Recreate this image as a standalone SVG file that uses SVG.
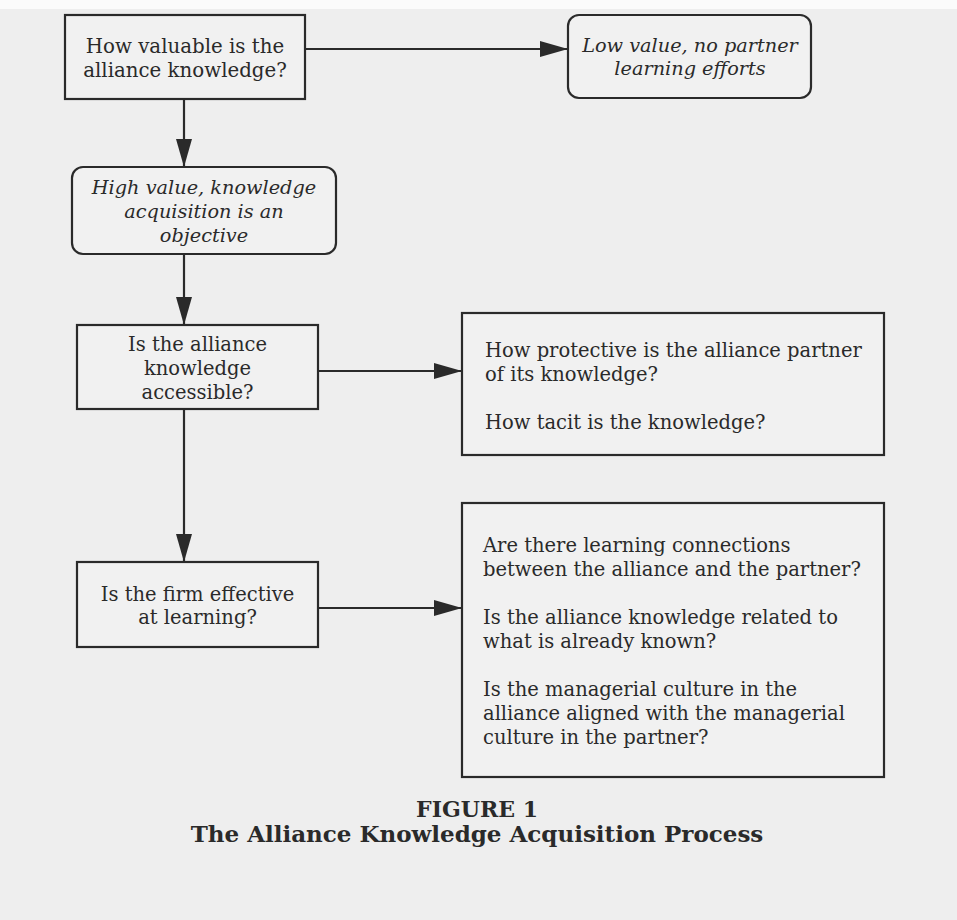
<svg xmlns="http://www.w3.org/2000/svg" width="957" height="920" viewBox="0 0 957 920">
  <defs>
    <marker id="ah" markerUnits="userSpaceOnUse" markerWidth="28" markerHeight="16" refX="28" refY="8" orient="auto">
      <path d="M0,0 L28,8 L0,16 Z" fill="#2a2a2a"/>
    </marker>
  </defs>
  <style>
    .box { fill: #f1f1f1; stroke: #2a2a2a; stroke-width: 2.2; }
    .t { font-family: "DejaVu Serif", "Liberation Serif", serif; fill: #2a2a2a; font-size: 19.5px; }
    .q { font-size: 19.8px; }
    .i { font-style: italic; font-size: 19.3px; }
    .c { text-anchor: middle; }
    .cap { font-family: "DejaVu Serif", "Liberation Serif", serif; fill: #2a2a2a; font-weight: bold; text-anchor: middle; }
    .ln { stroke: #2a2a2a; stroke-width: 2.2; fill: none; marker-end: url(#ah); }
  </style>
  <rect x="0" y="0" width="957" height="920" fill="#eeeeee"/>
  <rect x="0" y="0" width="957" height="9" fill="#fbfbfb"/>

  <g id="connectors">
    <line class="ln" x1="305" y1="49" x2="568" y2="49"/>
    <line class="ln" x1="184" y1="99" x2="184" y2="167"/>
    <line class="ln" x1="184" y1="254" x2="184" y2="325"/>
    <line class="ln" x1="318" y1="371" x2="462" y2="371"/>
    <line class="ln" x1="184" y1="409" x2="184" y2="562"/>
    <line class="ln" x1="318" y1="608" x2="462" y2="608"/>
  </g>

  <g id="n-valuable">
    <rect class="box" x="65" y="15" width="240" height="84"/>
    <text class="t q c" x="185" y="53">How valuable is the</text>
    <text class="t q c" x="185" y="77">alliance knowledge?</text>
  </g>

  <g id="n-low">
    <rect class="box" x="568" y="15" width="243" height="83" rx="11"/>
    <text class="t i c" x="690" y="52">Low value, no partner</text>
    <text class="t i c" x="690" y="75">learning efforts</text>
  </g>

  <g id="n-high">
    <rect class="box" x="72" y="167" width="264" height="87" rx="11"/>
    <text class="t i c" x="204" y="194">High value, knowledge</text>
    <text class="t i c" x="204" y="218">acquisition is an</text>
    <text class="t i c" x="204" y="242">objective</text>
  </g>

  <g id="n-accessible">
    <rect class="box" x="77" y="325" width="241" height="84"/>
    <text class="t c" x="197.5" y="351">Is the alliance</text>
    <text class="t c" x="197.5" y="375">knowledge</text>
    <text class="t c" x="197.5" y="399">accessible?</text>
  </g>

  <g id="n-protective">
    <rect class="box" x="462" y="313" width="422" height="142"/>
    <text class="t" x="485" y="357">How protective is the alliance partner</text>
    <text class="t" x="485" y="381">of its knowledge?</text>
    <text class="t" x="485" y="429">How tacit is the knowledge?</text>
  </g>

  <g id="n-effective">
    <rect class="box" x="77" y="562" width="241" height="85"/>
    <text class="t c" x="197.5" y="601">Is the firm effective</text>
    <text class="t c" x="197.5" y="624">at learning?</text>
  </g>

  <g id="n-learning">
    <rect class="box" x="462" y="503" width="422" height="274"/>
    <text class="t" x="483" y="552">Are there learning connections</text>
    <text class="t" x="483" y="576">between the alliance and the partner?</text>
    <text class="t" x="483" y="624">Is the alliance knowledge related to</text>
    <text class="t" x="483" y="648">what is already known?</text>
    <text class="t" x="483" y="696">Is the managerial culture in the</text>
    <text class="t" x="483" y="720">alliance aligned with the managerial</text>
    <text class="t" x="483" y="744">culture in the partner?</text>
  </g>

  <g id="caption">
    <text class="cap" x="477" y="817" font-size="22">FIGURE 1</text>
    <text class="cap" x="477" y="842" font-size="23">The Alliance Knowledge Acquisition Process</text>
  </g>
</svg>
